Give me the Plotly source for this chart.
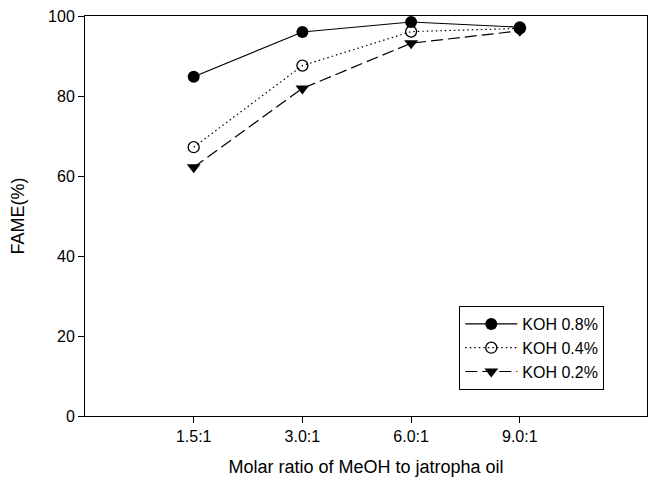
import plotly.graph_objects as go

x_pos = [1, 2, 3, 4]
x_labels = ["1.5:1", "3.0:1", "6.0:1", "9.0:1"]
koh08 = [84.8, 96.0, 98.5, 97.2]
koh04 = [67.2, 87.6, 96.1, 96.9]
koh02 = [62.2, 81.9, 93.2, 96.3]
y_ticks = [0, 20, 40, 60, 80, 100]

fig = go.Figure()
fig.add_trace(go.Scatter(x=x_pos, y=koh08, name="KOH 0.8%", mode="lines+markers",
                         line=dict(color="black", width=1.2, dash="solid"),
                         marker=dict(symbol="circle", size=12, color="black")))
fig.add_trace(go.Scatter(x=x_pos, y=koh04, name="KOH 0.4%", mode="lines+markers",
                         line=dict(color="black", width=1.2, dash="1.5px,3px"),
                         marker=dict(symbol="circle-open", size=11, color="black", line=dict(width=1.3))))
fig.add_trace(go.Scatter(x=x_pos, y=koh02, name="KOH 0.2%", mode="lines+markers",
                         line=dict(color="black", width=1.2, dash="12px,5px"),
                         marker=dict(symbol="triangle-down", size=12, color="black")))

font_family = "Liberation Sans, Arial, sans-serif"
fig.update_layout(
    width=656, height=486,
    margin=dict(l=85, r=8, t=12, b=70),
    paper_bgcolor="white", plot_bgcolor="white",
    font=dict(family=font_family, color="black", size=15),
    showlegend=True,
    legend=dict(x=0.666, y=0.275, xanchor="left", yanchor="top",
                bordercolor="black", borderwidth=1, bgcolor="white",
                font=dict(size=16), tracegroupgap=0, itemwidth=52),
    xaxis=dict(range=[0, 5.17], tickvals=x_pos, ticktext=x_labels,
               showline=True, linecolor="black", linewidth=1, mirror=True,
               ticks="outside", ticklen=6, tickcolor="black", showgrid=False, zeroline=False,
               title=dict(text="Molar ratio of MeOH to jatropha oil", font=dict(size=18), standoff=16),
               tickfont=dict(size=16)),
    yaxis=dict(range=[0, 100], tickvals=y_ticks,
               showline=True, linecolor="black", linewidth=1, mirror=True,
               ticks="outside", ticklen=6, tickcolor="black", showgrid=False, zeroline=False,
               title=dict(text="FAME(%)", font=dict(size=18), standoff=18),
               tickfont=dict(size=16)),
)
fig.write_html("out.html")
